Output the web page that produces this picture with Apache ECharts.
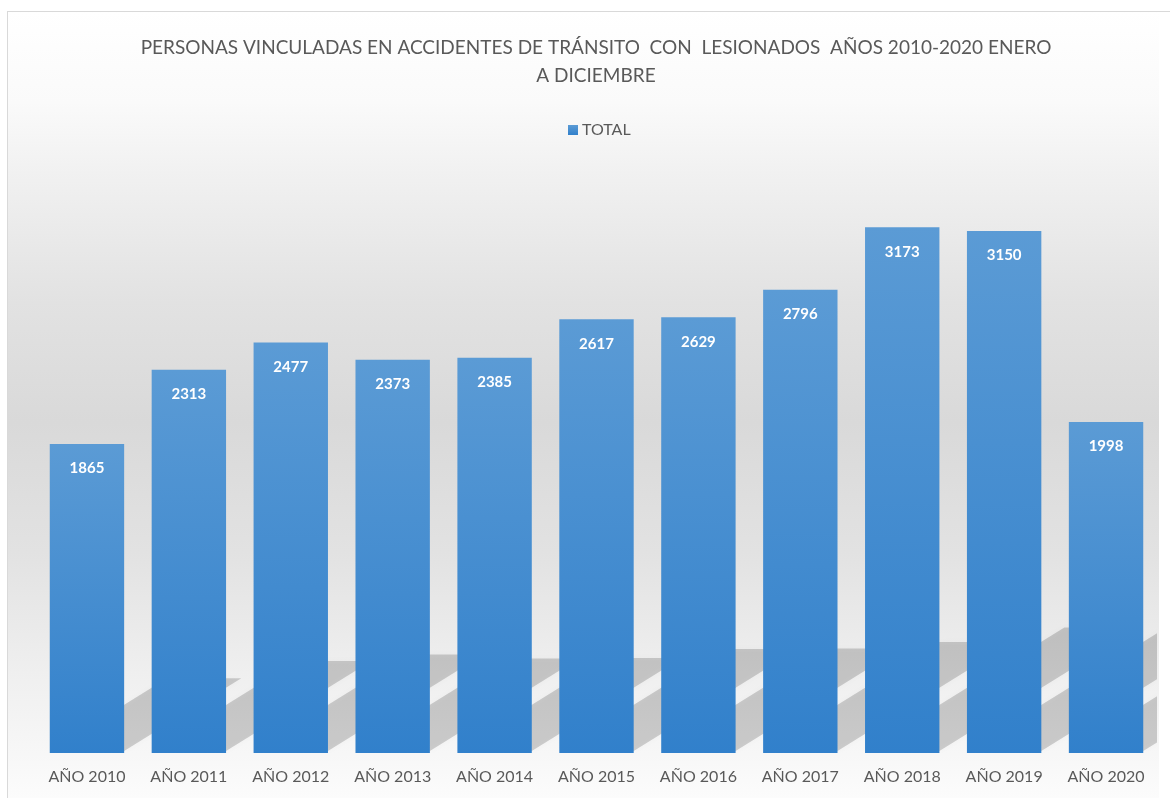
<!DOCTYPE html>
<html>
<head>
<meta charset="utf-8">
<script src="https://cdn.jsdelivr.net/npm/echarts@6/dist/echarts.min.js"></script>
<style>
html,body{margin:0;padding:0;background:#fff;}
#frame{position:absolute;left:7px;top:11px;width:1151px;height:787px;border-left:1px solid #d9d9d9;border-top:1px solid #d9d9d9;
background:linear-gradient(to bottom,#ffffff 0px,#fafafa 90px,#f1f1f1 160px,#e2e2e2 290px,#d9d9d9 410px,#e2e2e2 540px,#efefef 660px,#f7f7f7 742px,#fcfcfc 787px);}
#topline{position:absolute;left:1158px;top:11px;width:12px;height:1px;background:#d9d9d9;}
#chart{position:absolute;left:0;top:0;width:1170px;height:798px;}
</style>
</head>
<body>
<div id="frame"></div>
<div id="topline"></div>
<div id="chart"></div>
<script>
const titleText = 'PERSONAS VINCULADAS EN ACCIDENTES DE TRÁNSITO  CON  LESIONADOS  AÑOS 2010-2020 ENERO\nA DICIEMBRE';
const legendName = 'TOTAL';
const categories = ['AÑO 2010','AÑO 2011','AÑO 2012','AÑO 2013','AÑO 2014','AÑO 2015','AÑO 2016','AÑO 2017','AÑO 2018','AÑO 2019','AÑO 2020'];
const totals = [1865, 2313, 2477, 2373, 2385, 2617, 2629, 2796, 3173, 3150, 1998];

const chart = echarts.init(document.getElementById('chart'), null, {renderer:'canvas'});
const FONT = 'Lato, "Open Sans", sans-serif';
const BAR_FRAC = 0.73;

chart.setOption({
  backgroundColor: 'transparent',
  animation: false,
  title: {
    text: titleText,
    left: 591, top: 29,
    textAlign: 'center',
    textStyle: {fontFamily: FONT, fontSize: 19, fontWeight: 'normal', color: '#595959', lineHeight: 28, align: 'center'}
  },
  legend: {
    data: [legendName],
    top: 117, left: 563,
    icon: 'rect', itemWidth: 10, itemHeight: 10, itemGap: 5,
    textStyle: {fontFamily: FONT, fontSize: 16, color: '#595959', padding: [0, 0, 0, -1]}
  },
  grid: {left: 36, right: 13, top: 173, bottom: 45},
  xAxis: {
    type: 'category', data: categories,
    axisLine: {show: false}, axisTick: {show: false},
    axisLabel: {fontFamily: FONT, fontSize: 16, color: '#595959', margin: 16}
  },
  yAxis: {
    type: 'value', min: 0, max: 3500, interval: 500,
    show: false, splitLine: {show: false}
  },
  series: [
    {
      type: 'custom', silent: true, z: 1, clip: true,
      data: totals.map((v, i) => [i, v]),
      renderItem: function (params, api) {
        const i = api.value(0), v = api.value(1);
        const base = api.coord([i, 0]);
        const top = api.coord([i, v]);
        const band = api.size([1, 0])[0];
        const w = band * BAR_FRAC;
        const H = base[1] - top[1];
        const s = 0.62;
        const h = H * 0.235, dx = h / s;
        const xl = base[0] - w / 2, xr = base[0] + w / 2, y0 = base[1] - 2;
        return {
          type: 'polygon',
          shape: {points: [[xl, y0], [xr, y0], [xr + dx, y0 - h], [xl + dx, y0 - h]]},
          style: {fill: 'rgba(0,0,0,0.17)', shadowBlur: 7, shadowColor: 'rgba(0,0,0,0.14)'}
        };
      }
    },
    {
      name: legendName, type: 'bar', z: 2,
      data: totals,
      barCategoryGap: '27%',
      itemStyle: {
        color: new echarts.graphic.LinearGradient(0, 0, 0, 1, [
          {offset: 0, color: '#5b9bd5'}, {offset: 1, color: '#3180cb'}
        ])
      },
      label: {
        show: true, position: 'insideTop', distance: 17,
        fontFamily: FONT, fontSize: 15, fontWeight: 'bold', color: '#ffffff'
      }
    }
  ]
});
</script>
</body>
</html>
